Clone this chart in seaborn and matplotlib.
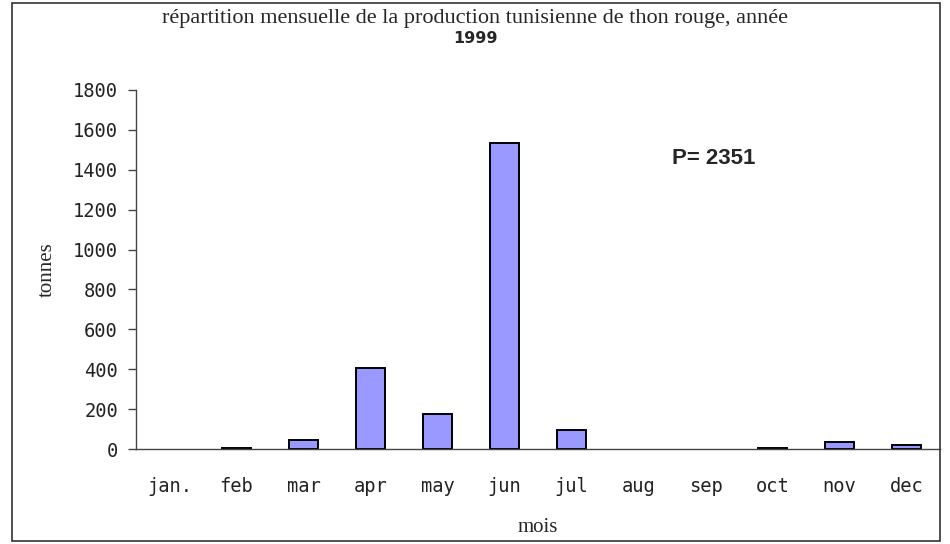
import numpy as np
import pandas as pd
import matplotlib
matplotlib.use("Agg")
import matplotlib.pyplot as plt
import seaborn as sns
from matplotlib.patches import Rectangle

# Monthly catch of bluefin tuna, Tunisia 1999 (tonnes)
months = ["jan.", "feb", "mar", "apr", "may", "jun", "jul", "aug", "sep", "oct", "nov", "dec"]
tonnes = [0, 3, 45, 406, 175, 1533, 95, 0, 0, 3, 35, 18]
y_ticks = [0, 200, 400, 600, 800, 1000, 1200, 1400, 1600, 1800]
total_label = "P= 2351"

df = pd.DataFrame({"mois": months, "tonnes": tonnes})

sns.set_style("white")
plt.rcParams["font.family"] = ["DejaVu Sans Mono", "DejaVu Sans"]

fig = plt.figure(figsize=(9.5, 5.44), dpi=100)
ax = fig.add_axes([0.1432, 0.1746, 0.8463, 0.66])

sns.barplot(data=df, x="mois", y="tonnes", color="#9999FF", saturation=1,
            width=0.42, edgecolor="black", linewidth=1.4, ax=ax)

# Empty months get no outline
for bar, v in zip(ax.patches, tonnes):
    if v == 0:
        bar.set_linewidth(0)

ax.set_xlim(-0.5, 11.5)
ax.set_ylim(0, 1800)
ax.set_yticks(y_ticks)
ax.set_yticklabels([str(v) for v in y_ticks], fontsize=13.5, color="#222222")

# Category boundaries carry the tick marks, labels sit at the bar centres
ax.set_xticks(np.arange(-0.5, 12.0, 1.0))
ax.set_xticklabels([""] * 13)
ax.set_xticks(np.arange(len(months)), minor=True)
ax.set_xticklabels(months, minor=True, fontsize=13.5, color="#222222")
ax.tick_params(axis="x", which="major", direction="out", length=6, width=1, color="#444444")
ax.tick_params(axis="x", which="minor", length=0, pad=20)
ax.tick_params(axis="y", direction="out", length=6, width=1, color="#444444", pad=7, left=True)

for side in ["top", "right"]:
    ax.spines[side].set_visible(False)
for side in ["left", "bottom"]:
    ax.spines[side].set_color("#444444")
    ax.spines[side].set_linewidth(1)

ax.set_xlabel("mois", fontsize=15, family=["Liberation Serif"], labelpad=16)
ax.set_ylabel("tonnes", fontsize=15, family=["Liberation Serif"], labelpad=12)

fig.text(0.5, 0.966, "répartition mensuelle de la production tunisienne de thon rouge, année",
         ha="center", va="center", fontsize=16, family=["Liberation Serif"])
fig.text(0.5, 0.93, "1999", ha="center", va="center", fontsize=11.5, fontweight="bold",
         family=["DejaVu Sans"])

ax.text(0.718, 0.81, total_label, transform=ax.transAxes, ha="center", va="center",
        fontsize=16, fontweight="bold", family=["Liberation Sans"])

# Chart border
fig.patches.append(Rectangle((12 / 950, 3 / 544), 928 / 950, 538 / 544,
                             transform=fig.transFigure, fill=False,
                             edgecolor="#333333", linewidth=1.2))

fig.savefig("out.png", dpi=100)
